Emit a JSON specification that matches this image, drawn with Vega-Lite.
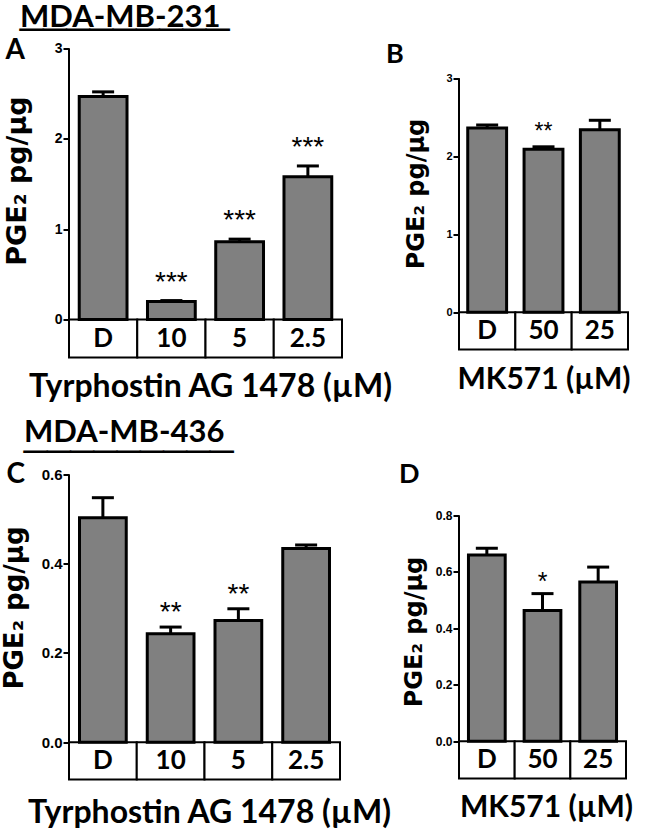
{
  "$schema": "https://vega.github.io/schema/vega-lite/v6.json",
  "background": "white",
  "padding": {"top": 1.5, "left": 0, "right": 0, "bottom": 0},
  "bounds": "flush",
  "columns": 2,
  "align": "each",
  "spacing": {"row": 117, "column": 117},
  "config": {"view": {"stroke": null}},
  "datasets": {
    "A": [
      {"group": "D", "mean": 2.47, "upper": 2.52, "sig": ""},
      {"group": "10", "mean": 0.2, "upper": 0.21, "sig": "***"},
      {"group": "5", "mean": 0.86, "upper": 0.89, "sig": "***"},
      {"group": "2.5", "mean": 1.58, "upper": 1.7, "sig": "***"}
    ],
    "B": [
      {"group": "D", "mean": 2.36, "upper": 2.4, "sig": ""},
      {"group": "50", "mean": 2.09, "upper": 2.12, "sig": "**"},
      {"group": "25", "mean": 2.34, "upper": 2.46, "sig": ""}
    ],
    "C": [
      {"group": "D", "mean": 0.503, "upper": 0.548, "sig": ""},
      {"group": "10", "mean": 0.243, "upper": 0.258, "sig": "**"},
      {"group": "5", "mean": 0.273, "upper": 0.299, "sig": "**"},
      {"group": "2.5", "mean": 0.434, "upper": 0.442, "sig": ""}
    ],
    "D": [
      {"group": "D", "mean": 0.66, "upper": 0.684, "sig": ""},
      {"group": "50", "mean": 0.463, "upper": 0.523, "sig": "*"},
      {"group": "25", "mean": 0.564, "upper": 0.617, "sig": ""}
    ]
  },
  "concat": [
    {
      "width": 273, "height": 309,
      "data": {"name": "A"},
      "title": {"text": ["MDA-MB-231", "─────────"], "lineHeight": 12, "anchor": "start", "frame": "group", "dx": -49, "dy": 9.5, "offset": 0, "font": "Lato", "fontSize": 31, "fontWeight": "bold", "color": "black"},
      "resolve": {"axis": {"x": "independent"}},
      "layer": [
        {"mark": {"type": "rect", "fill": "white", "stroke": "black", "strokeWidth": 2},
         "encoding": {
           "x": {"field": "group", "type": "nominal", "sort": null, "scale": {"paddingInner": 0, "paddingOuter": 0}, "axis": {"labels": false, "ticks": false, "domain": false, "title": "Tyrphostin AG 1478 (µM)", "titleFont": "Lato", "titleFontSize": 32, "titleFontWeight": "bold", "titleColor": "black", "titleX": 141, "titleY": 39, "titleBaseline": "alphabetic"}},
           "y": {"datum": 0, "type": "quantitative", "scale": {"domain": [-0.42, 3], "nice": false, "zero": false}, "axis": {"domain": false, "grid": false, "values": [0, 1, 2, 3], "format": "d", "tickSize": 6, "tickWidth": 2, "tickColor": "black", "labelFont": "Liberation Sans", "labelFontWeight": "bold", "labelFontSize": 14, "labelColor": "black", "labelPadding": 1, "title": "PGE₂ pg/µg", "titleFont": "DejaVu Sans", "titleFontSize": 27, "titleFontWeight": "bold", "titleColor": "black", "titleX": -44, "titleY": 132, "titleBaseline": "alphabetic"}},
           "y2": {"datum": -0.42}}},
        {"mark": {"type": "text", "font": "Lato", "fontSize": 26, "fontWeight": "bold", "color": "black", "baseline": "middle"},
         "encoding": {"x": {"field": "group", "type": "nominal", "sort": null, "axis": null}, "text": {"field": "group"}, "y": {"datum": -0.21, "type": "quantitative"}}},
        {"mark": {"type": "bar", "width": {"band": 0.7}, "fill": "#808080", "stroke": "black", "strokeWidth": 3},
         "encoding": {"x": {"field": "group", "type": "nominal", "sort": null, "axis": null}, "y": {"field": "mean", "type": "quantitative"}, "y2": {"datum": 0}}},
        {"mark": {"type": "rule", "strokeWidth": 3, "color": "black"},
         "encoding": {"x": {"field": "group", "type": "nominal", "sort": null, "axis": null}, "y": {"field": "mean", "type": "quantitative"}, "y2": {"field": "upper"}}},
        {"mark": {"type": "tick", "size": 22, "thickness": 3, "color": "black", "opacity": 1},
         "encoding": {"x": {"field": "group", "type": "nominal", "sort": null, "axis": null}, "y": {"field": "upper", "type": "quantitative"}}},
        {"mark": {"type": "text", "font": "Liberation Sans", "fontSize": 28, "color": "black", "baseline": "alphabetic", "dy": -10},
         "encoding": {"x": {"field": "group", "type": "nominal", "sort": null, "axis": null}, "text": {"field": "sig"}, "y": {"field": "upper", "type": "quantitative"}}},
        {"transform": [{"filter": "datum.group === 'D'"}],
         "mark": {"type": "rule", "strokeWidth": 2, "color": "black"},
         "encoding": {"x": {"field": "group", "type": "nominal", "sort": null, "bandPosition": 0, "axis": {"orient": "top", "labels": false, "ticks": false, "domain": false, "title": "A", "titleX": -64, "titleY": 10, "titleAlign": "left", "titleBaseline": "alphabetic", "titleFont": "Lato", "titleFontSize": 28, "titleFontWeight": "bold", "titleColor": "black"}}, "y": {"datum": 0, "type": "quantitative"}, "y2": {"datum": 3}}}
      ]
    },
    {
      "width": 169, "height": 301,
      "data": {"name": "B"},
      "title": {"text": "B", "anchor": "start", "frame": "group", "dx": -73, "dy": 20, "offset": 0, "font": "Lato", "fontSize": 27, "fontWeight": "bold", "color": "black"},
      "encoding": {"x": {"field": "group", "type": "nominal", "sort": null, "scale": {"paddingInner": 0, "paddingOuter": 0}, "axis": {"labels": false, "ticks": false, "domain": false, "title": "MK571 (µM)", "titleFont": "Lato", "titleFontSize": 30, "titleFontWeight": "bold", "titleColor": "black", "titleY": 39, "titleBaseline": "alphabetic"}}},
      "layer": [
        {"mark": {"type": "rect", "fill": "white", "stroke": "black", "strokeWidth": 2},
         "encoding": {"y": {"datum": 0, "type": "quantitative", "scale": {"domain": [-0.478, 3.38], "nice": false, "zero": false}, "axis": {"domain": false, "grid": false, "values": [0, 1, 2, 3], "format": "d", "tickSize": 6, "tickWidth": 2, "tickColor": "black", "labelFont": "Liberation Sans", "labelFontWeight": "bold", "labelFontSize": 11, "labelColor": "black", "labelPadding": 1, "title": "PGE₂ pg/µg", "titleFont": "DejaVu Sans", "titleFontSize": 24, "titleFontWeight": "bold", "titleColor": "black", "titleX": -36, "titleY": 145, "titleBaseline": "alphabetic"}}, "y2": {"datum": -0.478}}},
        {"mark": {"type": "text", "font": "Lato", "fontSize": 26, "fontWeight": "bold", "color": "black", "baseline": "middle"},
         "encoding": {"text": {"field": "group"}, "y": {"datum": -0.239, "type": "quantitative"}}},
        {"mark": {"type": "bar", "width": {"band": 0.69}, "fill": "#808080", "stroke": "black", "strokeWidth": 3},
         "encoding": {"y": {"field": "mean", "type": "quantitative"}, "y2": {"datum": 0}}},
        {"mark": {"type": "rule", "strokeWidth": 3, "color": "black"},
         "encoding": {"y": {"field": "mean", "type": "quantitative"}, "y2": {"field": "upper"}}},
        {"mark": {"type": "tick", "size": 22, "thickness": 3, "color": "black", "opacity": 1},
         "encoding": {"y": {"field": "upper", "type": "quantitative"}}},
        {"mark": {"type": "text", "font": "Liberation Sans", "fontSize": 23, "color": "black", "baseline": "alphabetic", "dy": -8},
         "encoding": {"text": {"field": "sig"}, "y": {"field": "upper", "type": "quantitative"}}},
        {"transform": [{"filter": "datum.group === 'D'"}],
         "mark": {"type": "rule", "strokeWidth": 2, "color": "black"},
         "encoding": {"x": {"field": "group", "type": "nominal", "bandPosition": 0}, "y": {"datum": 0, "type": "quantitative"}, "y2": {"datum": 3}}}
      ]
    },
    {
      "width": 271, "height": 305,
      "data": {"name": "C"},
      "title": {"text": ["MDA-MB-436", "─────────"], "lineHeight": 19, "anchor": "start", "frame": "group", "dx": -45, "dy": 7.5, "offset": 0, "font": "Lato", "fontSize": 31, "fontWeight": "bold", "color": "black"},
      "resolve": {"axis": {"x": "independent"}},
      "layer": [
        {"mark": {"type": "rect", "fill": "white", "stroke": "black", "strokeWidth": 2},
         "encoding": {
           "x": {"field": "group", "type": "nominal", "sort": null, "scale": {"paddingInner": 0, "paddingOuter": 0}, "axis": {"labels": false, "ticks": false, "domain": false, "title": "Tyrphostin AG 1478 (µM)", "titleFont": "Lato", "titleFontSize": 32, "titleFontWeight": "bold", "titleColor": "black", "titleX": 140, "titleY": 43, "titleBaseline": "alphabetic"}},
           "y": {"datum": 0, "type": "quantitative", "scale": {"domain": [-0.0837, 0.6], "nice": false, "zero": false}, "axis": {"domain": false, "grid": false, "values": [0, 0.2, 0.4, 0.6], "format": ".1f", "tickSize": 6, "tickWidth": 2, "tickColor": "black", "labelFont": "Liberation Sans", "labelFontWeight": "bold", "labelFontSize": 15, "labelColor": "black", "labelPadding": 1, "title": "PGE₂ pg/µg", "titleFont": "DejaVu Sans", "titleFontSize": 26, "titleFontWeight": "bold", "titleColor": "black", "titleX": -47, "titleY": 133, "titleBaseline": "alphabetic"}},
           "y2": {"datum": -0.0837}}},
        {"mark": {"type": "text", "font": "Lato", "fontSize": 26, "fontWeight": "bold", "color": "black", "baseline": "middle"},
         "encoding": {"x": {"field": "group", "type": "nominal", "sort": null, "axis": null}, "text": {"field": "group"}, "y": {"datum": -0.042, "type": "quantitative"}}},
        {"mark": {"type": "bar", "width": {"band": 0.69}, "fill": "#808080", "stroke": "black", "strokeWidth": 3},
         "encoding": {"x": {"field": "group", "type": "nominal", "sort": null, "axis": null}, "y": {"field": "mean", "type": "quantitative"}, "y2": {"datum": 0}}},
        {"mark": {"type": "rule", "strokeWidth": 3, "color": "black"},
         "encoding": {"x": {"field": "group", "type": "nominal", "sort": null, "axis": null}, "y": {"field": "mean", "type": "quantitative"}, "y2": {"field": "upper"}}},
        {"mark": {"type": "tick", "size": 22, "thickness": 3, "color": "black", "opacity": 1},
         "encoding": {"x": {"field": "group", "type": "nominal", "sort": null, "axis": null}, "y": {"field": "upper", "type": "quantitative"}}},
        {"mark": {"type": "text", "font": "Liberation Sans", "fontSize": 28, "color": "black", "baseline": "alphabetic", "dy": -6},
         "encoding": {"x": {"field": "group", "type": "nominal", "sort": null, "axis": null}, "text": {"field": "sig"}, "y": {"field": "upper", "type": "quantitative"}}},
        {"transform": [{"filter": "datum.group === 'D'"}],
         "mark": {"type": "rule", "strokeWidth": 2, "color": "black"},
         "encoding": {"x": {"field": "group", "type": "nominal", "sort": null, "bandPosition": 0, "axis": {"orient": "top", "labels": false, "ticks": false, "domain": false, "title": "C", "titleX": -63, "titleY": 8, "titleAlign": "left", "titleBaseline": "alphabetic", "titleFont": "Lato", "titleFontSize": 28, "titleFontWeight": "bold", "titleColor": "black"}}, "y": {"datum": 0, "type": "quantitative"}, "y2": {"datum": 0.6}}}
      ]
    },
    {
      "width": 167, "height": 304,
      "data": {"name": "D"},
      "title": {"text": "D", "anchor": "start", "frame": "group", "dx": -60, "dy": 14, "offset": 0, "font": "Lato", "fontSize": 27, "fontWeight": "bold", "color": "black"},
      "encoding": {"x": {"field": "group", "type": "nominal", "sort": null, "scale": {"paddingInner": 0, "paddingOuter": 0}, "axis": {"labels": false, "ticks": false, "domain": false, "title": "MK571 (µM)", "titleFont": "Lato", "titleFontSize": 30, "titleFontWeight": "bold", "titleColor": "black", "titleX": 87, "titleY": 38, "titleBaseline": "alphabetic"}}},
      "layer": [
        {"mark": {"type": "rect", "fill": "white", "stroke": "black", "strokeWidth": 2},
         "encoding": {"y": {"datum": 0, "type": "quantitative", "scale": {"domain": [-0.132, 0.945], "nice": false, "zero": false}, "axis": {"domain": false, "grid": false, "values": [0, 0.2, 0.4, 0.6, 0.8], "format": ".1f", "tickSize": 6, "tickWidth": 2, "tickColor": "black", "labelFont": "Liberation Sans", "labelFontWeight": "bold", "labelFontSize": 12, "labelColor": "black", "labelPadding": 1, "title": "PGE₂ pg/µg", "titleFont": "DejaVu Sans", "titleFontSize": 24, "titleFontWeight": "bold", "titleColor": "black", "titleX": -38, "titleY": 157, "titleBaseline": "alphabetic"}}, "y2": {"datum": -0.132}}},
        {"mark": {"type": "text", "font": "Lato", "fontSize": 26, "fontWeight": "bold", "color": "black", "baseline": "middle"},
         "encoding": {"text": {"field": "group"}, "y": {"datum": -0.066, "type": "quantitative"}}},
        {"mark": {"type": "bar", "width": {"band": 0.66}, "fill": "#808080", "stroke": "black", "strokeWidth": 3},
         "encoding": {"y": {"field": "mean", "type": "quantitative"}, "y2": {"datum": 0}}},
        {"mark": {"type": "rule", "strokeWidth": 3, "color": "black"},
         "encoding": {"y": {"field": "mean", "type": "quantitative"}, "y2": {"field": "upper"}}},
        {"mark": {"type": "tick", "size": 22, "thickness": 3, "color": "black", "opacity": 1},
         "encoding": {"y": {"field": "upper", "type": "quantitative"}}},
        {"mark": {"type": "text", "font": "Liberation Sans", "fontSize": 25, "color": "black", "baseline": "alphabetic", "dy": -4},
         "encoding": {"text": {"field": "sig"}, "y": {"field": "upper", "type": "quantitative"}}},
        {"transform": [{"filter": "datum.group === 'D'"}],
         "mark": {"type": "rule", "strokeWidth": 2, "color": "black"},
         "encoding": {"x": {"field": "group", "type": "nominal", "bandPosition": 0}, "y": {"datum": 0, "type": "quantitative"}, "y2": {"datum": 0.8}}}
      ]
    }
  ]
}
